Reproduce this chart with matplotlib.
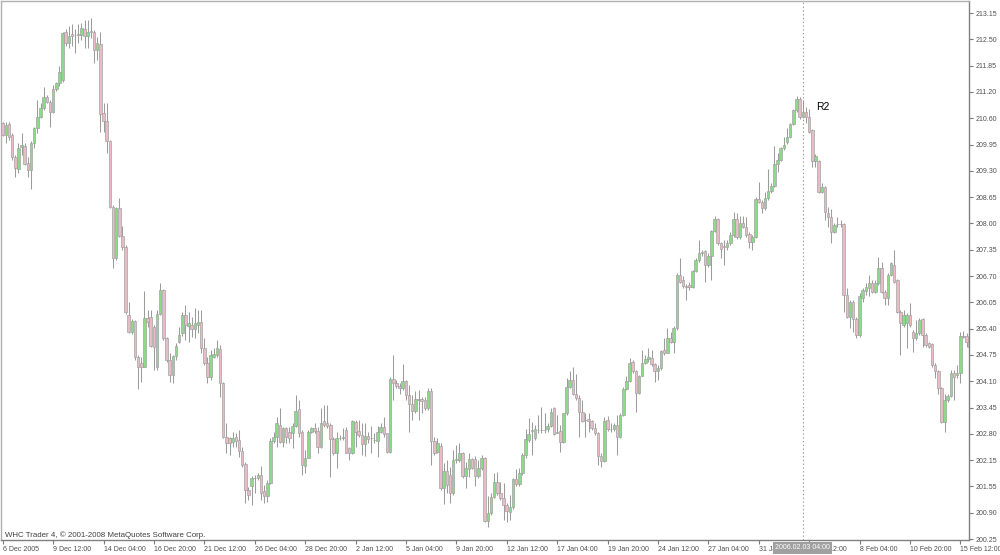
import matplotlib
matplotlib.use("Agg")
import matplotlib.pyplot as plt
import numpy as np

plt.rcParams['font.family'] = ['Liberation Sans', 'DejaVu Sans']

# ---- 4H OHLC data (bar 0 = 6 Dec 2005 20:00) ----
opens = [
210.46,210.16,210.43,210.16,209.61,209.32,209.86,209.90,209.48,209.30,
209.96,210.32,210.61,210.81,211.08,210.98,210.73,211.28,211.43,211.51,
212.68,212.42,212.63,212.61,212.62,212.61,212.75,212.59,212.70,212.69,
212.24,212.39,210.69,210.51,210.00,208.40,207.14,208.38,207.68,207.42,
205.75,205.34,205.61,204.72,204.56,204.48,205.66,205.69,205.46,204.46,
205.76,206.36,205.17,204.64,204.27,204.74,205.09,205.30,205.75,205.48,
205.50,205.39,205.50,205.58,204.93,204.56,204.23,204.72,204.76,204.90,
204.07,202.76,202.72,202.64,202.76,202.68,202.42,202.09,201.45,201.54,
201.74,201.76,201.82,201.44,201.31,201.62,202.66,202.76,203.06,202.64,
202.97,202.87,202.84,203.02,203.44,202.87,202.05,202.25,202.87,202.97,
202.91,202.52,203.15,203.09,203.05,202.70,202.37,202.72,202.74,202.93,
202.48,202.35,203.13,202.90,202.80,202.57,202.78,202.74,202.68,202.66,
202.88,203.01,202.84,202.39,204.17,204.09,204.00,203.95,204.13,203.78,
203.56,203.40,203.67,203.68,203.66,203.46,203.88,202.66,202.39,202.54,
201.51,201.92,201.82,201.37,202.19,202.19,202.35,201.80,201.96,202.21,
202.21,201.80,201.99,202.25,200.70,200.88,201.29,201.66,201.39,201.25,
201.09,200.92,201.03,201.72,201.60,201.86,202.31,202.68,202.91,202.72,
202.93,202.92,202.93,202.94,203.02,203.46,202.84,202.90,202.64,203.33,
203.97,204.15,203.81,203.72,203.37,203.16,203.19,203.15,202.97,202.84,
202.29,202.17,203.17,202.94,202.94,203.05,202.75,203.29,203.92,204.13,
204.60,204.36,203.84,204.25,204.58,204.66,204.68,204.54,204.38,204.44,
204.89,204.82,205.19,205.09,205.42,206.73,206.60,206.46,206.48,206.44,
206.83,207.09,207.26,207.31,206.97,207.19,207.81,208.09,207.52,207.43,
207.42,207.50,207.71,208.09,207.67,208.00,207.91,207.73,207.54,207.67,
208.58,208.52,208.36,208.61,208.79,208.91,209.46,209.55,209.83,209.99,
210.10,210.43,210.76,211.03,210.59,210.73,210.61,210.28,209.51,209.51,
208.77,208.89,208.24,208.16,207.79,207.97,207.97,207.97,206.24,205.70,
206.07,205.64,205.26,206.15,206.34,206.40,206.54,206.32,206.52,206.91,
206.32,206.15,206.73,206.97,206.60,205.83,205.50,205.54,205.75,205.34,
205.17,205.30,205.64,205.26,205.05,205.03,204.52,204.36,203.95,203.11,
203.66,203.76,204.33,204.27,204.33,205.23,205.23,205.21]

highs = [
210.49,210.49,210.49,210.20,209.67,209.96,210.20,209.96,209.61,210.00,
210.36,211.02,210.94,211.33,211.14,211.02,211.39,211.47,211.84,212.69,
212.75,212.83,212.88,212.77,212.88,212.90,212.98,212.98,213.02,212.73,
212.57,212.69,210.94,210.94,210.04,208.44,208.40,208.61,207.93,207.45,
206.07,205.64,205.63,204.76,204.72,206.34,205.87,205.87,205.50,205.87,
206.52,206.38,205.21,204.81,204.76,205.05,205.46,205.83,205.99,205.83,
205.70,205.91,205.88,205.87,205.17,204.72,204.89,204.93,205.13,205.01,
204.11,203.09,202.76,202.88,202.84,202.92,202.52,202.15,201.53,201.80,
201.82,201.86,202.05,201.58,201.70,202.72,202.88,203.25,203.46,203.01,
203.01,203.01,203.09,203.78,203.66,202.93,202.43,202.93,203.01,203.09,
203.01,203.46,203.54,203.54,203.09,202.76,202.88,202.80,202.97,203.01,
202.52,203.17,203.17,203.17,203.09,203.09,202.88,203.02,202.84,203.02,
203.09,203.25,202.86,204.23,204.76,204.15,204.07,204.54,204.15,204.03,
203.78,203.87,203.91,203.74,203.74,203.95,203.95,202.76,202.72,202.60,
202.11,202.19,202.03,202.43,202.56,202.60,202.39,202.15,202.35,202.23,
202.29,202.19,202.31,202.27,201.31,201.37,201.88,201.90,201.66,201.62,
201.13,201.33,201.74,201.96,201.99,202.35,202.94,203.21,203.13,203.05,
203.29,203.50,203.33,203.09,203.46,203.48,203.29,203.05,203.35,204.19,
204.36,204.46,204.30,203.78,203.66,203.33,203.33,203.17,203.09,202.88,
202.35,203.25,203.27,203.09,203.09,203.29,203.33,203.97,204.25,204.70,
204.64,204.40,204.27,204.89,204.76,204.93,204.89,204.58,204.52,204.89,
205.17,205.42,205.34,205.48,206.77,207.14,206.69,206.50,206.56,206.86,
207.14,207.59,207.34,207.34,207.26,207.84,208.17,208.12,207.54,207.58,
207.58,207.79,208.28,208.25,208.17,208.17,208.16,207.79,207.71,208.65,
209.01,208.57,208.77,209.32,208.99,209.89,209.71,209.87,210.12,210.32,
210.46,210.79,211.12,211.10,211.02,210.84,210.79,210.30,209.69,209.55,
208.99,208.91,208.40,208.34,208.00,208.16,208.07,208.00,206.40,206.11,
206.11,205.70,206.28,206.40,206.52,206.73,206.60,206.60,207.17,207.05,
206.36,206.77,207.05,207.34,206.64,205.87,205.87,205.79,206.03,205.38,
205.62,205.66,205.66,205.30,205.09,205.05,204.56,204.40,203.99,203.82,
203.82,204.40,204.40,204.52,205.34,205.36,205.30,205.34]

lows = [
210.14,209.96,210.04,209.55,209.14,209.22,209.67,209.42,209.14,208.83,
209.83,210.20,210.57,210.77,210.94,210.36,210.69,211.25,211.35,211.47,
212.33,212.29,212.33,212.16,212.41,212.49,212.29,212.29,212.53,211.92,
212.00,210.24,210.24,209.71,208.36,206.89,207.10,207.65,207.34,205.78,
205.31,205.28,204.64,203.92,204.11,204.46,205.46,204.95,204.40,204.40,
205.75,205.13,204.60,204.11,204.09,204.64,205.05,205.23,205.13,205.09,
205.21,205.17,205.31,204.81,204.52,204.09,204.14,204.68,204.72,203.74,
202.72,202.35,202.31,202.52,202.52,202.27,202.03,201.13,201.21,201.09,
201.37,201.70,201.21,201.13,201.17,201.60,202.61,202.52,202.60,202.52,
202.60,202.60,202.48,203.01,202.76,201.81,201.86,202.23,202.84,202.84,
202.35,202.48,203.01,202.97,201.78,202.31,201.99,202.68,202.68,202.35,
202.19,202.33,202.52,202.76,202.31,202.30,202.60,202.35,202.60,202.27,
202.84,202.76,202.35,202.37,203.66,203.95,203.82,203.91,203.66,202.88,
203.17,203.33,203.17,203.33,203.42,203.42,202.07,202.31,202.35,201.45,
201.11,201.37,201.13,201.33,202.11,202.15,201.74,201.50,201.78,201.96,
201.54,201.74,201.95,200.68,200.55,200.84,201.25,201.33,201.21,200.72,
200.68,200.72,201.00,201.54,201.54,201.82,202.23,202.64,202.31,202.68,
202.84,202.84,202.84,202.88,203.01,202.80,202.84,202.39,202.61,203.29,
203.95,203.78,203.66,202.76,203.13,202.76,202.88,202.93,202.80,202.07,
202.03,202.15,202.91,202.88,202.91,202.31,202.72,203.27,203.90,204.11,
204.32,203.37,203.82,204.25,204.54,204.60,204.50,204.11,204.15,204.40,
204.76,204.81,205.07,204.81,205.38,206.52,206.40,206.11,206.36,206.40,
206.81,207.05,207.18,206.56,206.93,206.60,207.79,207.46,207.14,206.97,
207.34,207.46,207.67,207.62,207.62,207.87,207.67,207.38,207.34,207.63,
208.48,208.24,208.32,208.57,208.73,208.89,209.26,209.51,209.79,209.95,
210.08,210.40,210.73,210.54,210.57,210.45,210.20,209.38,209.37,208.73,
208.73,208.07,207.91,207.50,207.75,207.91,207.91,205.83,205.66,205.42,
205.34,205.17,205.21,206.07,206.24,206.20,206.28,206.28,206.48,206.28,
205.99,205.99,206.69,206.52,205.79,204.76,205.46,204.93,205.46,204.85,
205.13,205.26,204.97,204.97,204.93,204.48,204.19,203.82,203.09,202.88,
203.62,203.74,203.66,204.19,204.09,205.17,204.97,204.93]

closes = [
210.16,210.40,210.10,209.63,209.34,209.83,209.91,209.46,209.30,209.96,
210.32,210.61,210.81,211.08,210.98,210.73,211.28,211.43,211.71,212.65,
212.41,212.59,212.59,212.61,212.63,212.78,212.59,212.69,212.69,212.24,
212.41,210.67,210.51,210.00,208.40,207.14,208.36,207.68,207.42,205.83,
205.34,205.61,204.72,204.48,204.48,205.66,205.58,204.99,204.95,205.76,
206.36,205.17,204.64,204.27,204.74,204.99,205.26,205.75,205.50,205.54,
205.39,205.54,205.58,204.93,204.56,204.22,204.76,204.78,204.93,204.07,
202.76,202.61,202.61,202.72,202.66,202.42,202.07,201.45,201.33,201.74,
201.76,201.82,201.37,201.31,201.62,202.66,202.76,203.09,202.64,202.97,
202.76,202.72,203.02,203.39,202.84,202.07,202.25,202.87,202.97,202.91,
202.52,203.09,203.05,203.02,202.70,202.37,202.72,202.74,202.76,202.37,
202.37,203.15,202.88,202.80,202.57,202.78,202.71,202.73,202.67,202.88,
203.01,202.82,202.39,204.17,204.07,204.00,203.95,204.13,203.78,203.56,
203.40,203.68,203.68,203.64,203.46,203.88,202.66,202.37,202.61,201.51,
201.92,201.58,201.37,202.19,202.22,202.35,201.80,201.99,202.21,201.99,
201.80,201.99,202.25,200.70,200.88,201.29,201.66,201.39,201.25,201.09,
200.95,201.03,201.72,201.60,201.86,202.31,202.70,202.82,202.93,202.94,
202.92,202.93,202.92,203.02,203.37,202.82,202.88,202.64,203.33,203.97,
204.15,203.81,203.72,203.37,203.15,203.17,203.15,202.97,202.84,202.29,
202.17,203.15,202.94,202.95,203.05,202.75,203.29,203.92,204.13,204.58,
204.36,203.84,204.25,204.58,204.66,204.71,204.54,204.38,204.44,204.86,
204.81,205.19,205.09,205.42,206.73,206.56,206.46,206.42,206.42,206.83,
207.09,207.26,207.30,206.97,207.19,207.81,208.09,207.50,207.36,207.42,
207.50,207.71,208.09,207.67,208.00,207.91,207.71,207.54,207.67,208.58,
208.52,208.36,208.61,208.79,208.91,209.46,209.55,209.83,209.92,210.10,
210.43,210.76,211.03,210.59,210.73,210.61,210.24,209.51,209.64,208.77,
208.89,208.28,208.16,207.79,207.95,207.98,207.97,206.24,205.70,206.07,
205.64,205.26,206.21,206.36,206.44,206.54,206.32,206.52,206.89,206.32,
206.15,206.73,207.01,206.56,205.83,205.54,205.75,205.75,205.50,205.17,
205.30,205.62,205.26,205.01,204.97,204.52,204.36,203.95,203.11,203.66,
203.76,204.32,204.23,204.33,205.23,205.21,205.09,204.97]

# time axis (a label every 16 bars)
x_tick_bars = [0, 16, 32, 48, 64, 80, 96, 112, 128, 144, 160, 176, 192, 208,
               224, 240, 256, 272, 288, 304]
x_tick_labels = ["6 Dec 2005", "9 Dec 12:00", "14 Dec 04:00", "16 Dec 20:00",
                 "21 Dec 12:00", "26 Dec 04:00", "28 Dec 20:00", "2 Jan 12:00",
                 "5 Jan 04:00", "9 Jan 20:00", "12 Jan 12:00", "17 Jan 04:00",
                 "19 Jan 20:00", "24 Jan 12:00", "27 Jan 04:00", "31 Jan 20:00",
                 "2 Feb 12:00", "8 Feb 04:00", "10 Feb 20:00", "15 Feb 12:00"]

# price axis
y_tick_values = [213.15, 212.505, 211.86, 211.215, 210.57, 209.925, 209.28,
                 208.635, 207.99, 207.345, 206.70, 206.055, 205.41, 204.765,
                 204.12, 203.475, 202.83, 202.185, 201.54, 200.895, 200.25]
y_tick_labels = ["213.15", "212.50", "211.85", "211.20", "210.60", "209.95",
                 "209.30", "208.65", "208.00", "207.35", "206.70", "206.05",
                 "205.40", "204.75", "204.10", "203.45", "202.80", "202.15",
                 "201.55", "200.90", "200.25"]

marker_bar = 254
marker_time = "2006.02.03 04:00"
r2_bar = 258.3
r2_price = 210.85
copyright_text = "WHC Trader 4, \u00a9 2001-2008 MetaQuotes Software Corp."

up_color = "#8ada8a"
down_color = "#e8bcc6"
wick_color = "#9c9c9c"
text_color = "#505050"

o = np.array(opens)
h = np.array(highs)
l = np.array(lows)
c = np.array(closes)
x = np.arange(len(o))

fig = plt.figure(figsize=(10, 5.55), dpi=100)
fig.patch.set_facecolor("white")
ax = fig.add_axes([0.001, 15 / 555, 0.968, 539 / 555])
ax.set_facecolor("white")

ax.vlines(x, l, h, color=wick_color, linewidth=0.75, zorder=2)
bottoms = np.minimum(o, c)
heights = np.abs(c - o)
colors = np.where(c >= o, up_color, down_color)
ax.bar(x, heights, bottom=bottoms, width=0.8, color=colors,
       edgecolor=wick_color, linewidth=0.45, zorder=3)

ax.axvline(marker_bar, color="#9a9a9a", linestyle=(0, (1.2, 2.2)),
           linewidth=0.8, zorder=1)
ax.text(r2_bar, r2_price, "R2", fontsize=7.5, color="black",
        ha="left", va="center", zorder=5)

ax.set_xlim(-0.54, 306.76)
ax.set_ylim(200.228, 213.445)

ax.yaxis.tick_right()
ax.set_yticks(y_tick_values)
ax.set_yticklabels(y_tick_labels)
ax.set_xticks(x_tick_bars)
ax.set_xticklabels(x_tick_labels)
for lab in ax.get_xticklabels():
    lab.set_horizontalalignment("left")
ax.tick_params(axis="y", direction="out", length=3, width=0.8, pad=2,
               labelsize=5, colors="#7a7a7a", labelcolor=text_color)
ax.tick_params(axis="x", direction="out", length=3, width=0.8, pad=1.2,
               labelsize=5, colors="#7a7a7a", labelcolor=text_color)

for side in ["left", "top"]:
    ax.spines[side].set_color("#b0b0b0")
    ax.spines[side].set_linewidth(1.0)
for side in ["right", "bottom"]:
    ax.spines[side].set_color("#808080")
    ax.spines[side].set_linewidth(1.0)

ax.text(marker_bar, -0.0148, marker_time, transform=ax.get_xaxis_transform(),
        ha="center", va="center", fontsize=5, color="white", zorder=10,
        clip_on=False,
        bbox=dict(boxstyle="square,pad=0.3", fc="#a0a0a0", ec="none"))

fig.text(0.005, 1 - 535 / 555, copyright_text, fontsize=5.7,
         color="#404040", ha="left", va="center")

fig.savefig("out.png", dpi=100, facecolor="white")
